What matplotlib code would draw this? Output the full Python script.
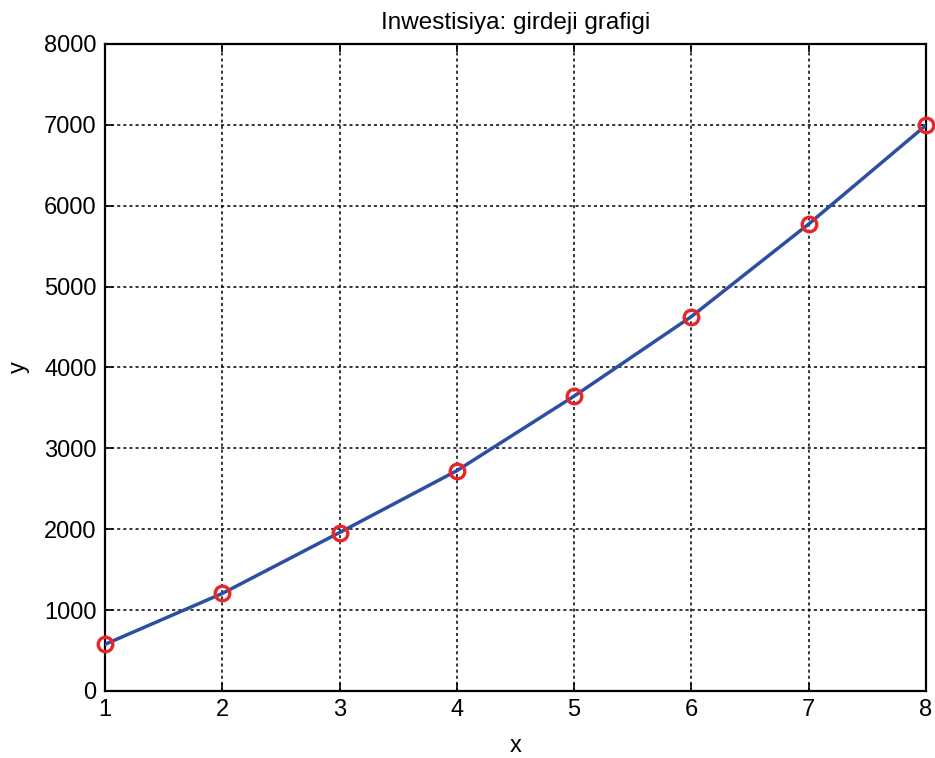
import matplotlib
matplotlib.use('Agg')
import matplotlib.pyplot as plt

# data
x_vals = [1, 2, 3, 4, 5, 6, 7, 8]
y_vals = [577, 1206, 1959, 2724, 3646, 4630, 5774, 6995]
x_ticks = [1, 2, 3, 4, 5, 6, 7, 8]
y_ticks = [0, 1000, 2000, 3000, 4000, 5000, 6000, 7000, 8000]

plt.rcParams['font.family'] = ['Liberation Sans', 'DejaVu Sans']

fig = plt.figure(figsize=(9.35, 7.58), dpi=100)
ax = fig.add_axes([0.1123, 0.0884, 0.8781, 0.8536])

ax.plot(x_vals, y_vals, color='#2c4fa3', linewidth=2.5, zorder=3)
ax.plot(x_vals, y_vals, linestyle='none', marker='o', markersize=10.5,
        markerfacecolor='none', markeredgecolor='#e8262a', markeredgewidth=2.4,
        zorder=4, clip_on=False)

ax.set_xlim(1, 8)
ax.set_ylim(0, 8000)
ax.set_xticks(x_ticks)
ax.set_yticks(y_ticks)
ax.tick_params(direction='in', length=6, width=1.2, labelsize=17,
               top=True, right=True, pad=6)
ax.grid(True, color='black', linestyle=(0, (2, 2)), linewidth=1.1)
for s in ax.spines.values():
    s.set_linewidth(1.6)

ax.set_title('Inwestisiya: girdeji grafigi', fontsize=17.5, pad=11)
ax.set_xlabel('x', fontsize=17, labelpad=10)
ax.set_ylabel('y', fontsize=17, labelpad=10)

fig.savefig('out.png', dpi=100)
